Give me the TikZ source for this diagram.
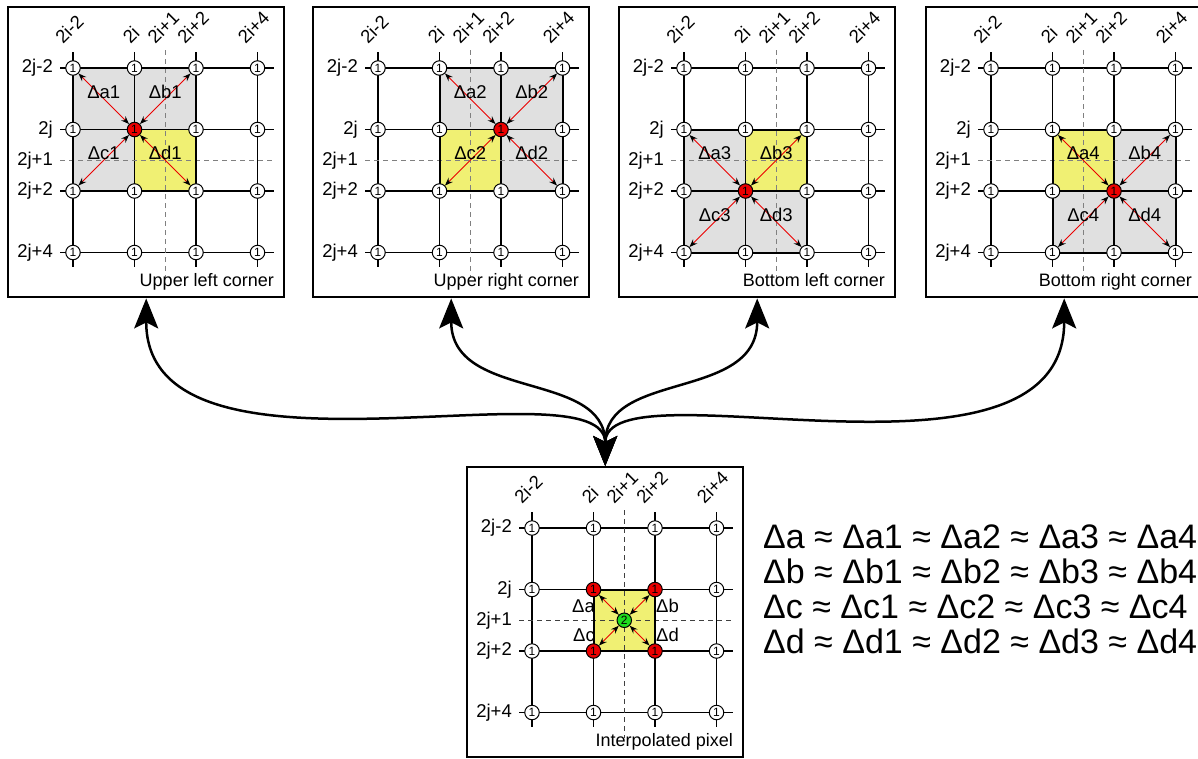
\documentclass[tikz,border=0pt]{standalone}
\usepackage{fontspec}
\setmainfont{Liberation Sans}
\usetikzlibrary{arrows.meta,calc}

\definecolor{cellgray}{RGB}{224,224,224}
\definecolor{cellyellow}{RGB}{240,240,115}
\definecolor{pixred}{RGB}{235,0,0}
\definecolor{pixgreen}{RGB}{30,220,30}

\tikzset{
  panel/.style={draw, line width=2.4pt, minimum width=276pt, minimum height=290pt, inner sep=0pt},
  gridline/.style={line width=1.2pt},
  halfline/.style={gray, line width=.8pt, dash pattern=on 5pt off 4pt},
  outline/.style={line width=2pt},
  pix/.style={circle, draw, line width=1pt, fill=white, minimum size=14.5pt, inner sep=0pt, font=\fontsize{12}{12}\selectfont},
  rowlabel/.style={anchor=east, inner sep=0pt, font=\fontsize{18.5}{18.5}\selectfont},
  collabel/.style={rotate=45, anchor=south west, inner sep=0pt, font=\fontsize{18.5}{18.5}\selectfont},
  dlabel/.style={inner sep=0pt, yshift=7pt, font=\fontsize{18.5}{18.5}\selectfont},
  plabel/.style={inner sep=0pt, font=\fontsize{18.5}{18.5}\selectfont},
  caption/.style={anchor=base east, inner sep=0pt, font=\fontsize{18}{18}\selectfont},
  darrow/.style={pixred, line width=1pt, arrows={Stealth[black,length=8pt,width=6pt]-Stealth[black,length=8pt,width=6pt]}},
  bigarrow/.style={line width=2.5pt, arrows={Stealth[length=30pt,width=24pt,inset=6pt]-Stealth[length=30pt,width=24pt,inset=6pt]}},
  eqtext/.style={anchor=base west, inner sep=0pt, font=\fontsize{34}{34}\selectfont}
}

% grid lines and labels of one panel
\newcommand\gridlines[1]{%
  \foreach \c in {66,127.5,189,250.5}
    \draw[gridline] (\c,46) -- (\c,261);
  \foreach \r in {62,123.5,185,246.5}
    \draw[gridline] (53,\r) -- (267,\r);
  \draw[halfline] (158.25,44) -- (158.25,272);
  \draw[halfline] (53,154.25) -- (265,154.25);
  \foreach \c/\t/\d [count=\k] in {66/2i-2/10,127.5/2i/4,158.25/2i+1/10,189/2i+2/11,250.5/2i+4/12}
    \node[collabel] (#1-col\k) at (\c-\d,39) {\t};
  \foreach \r/\t [count=\k] in {62/2j-2,123.5/2j,154.25/2j+1,185/2j+2,246.5/2j+4}
    \node[rowlabel] (#1-row\k) at (46,\r) {\t};
}

% pixels of one panel, the listed ones red
\newcommand\gridpix[2]{%
  \foreach \h in {#2}{\expandafter\gdef\csname hot#1-\h\endcsname{}}
  \foreach \c [count=\i from 0] in {66,127.5,189,250.5}
    \foreach \r [count=\j from 0] in {62,123.5,185,246.5}{
      \ifcsname hot#1-\i-\j\endcsname\def\pixfill{pixred}\else\def\pixfill{white}\fi
      \node[pix, fill=\pixfill] (#1-\i-\j) at (\c,\r) {1};
    }
}

\begin{document}
\begin{tikzpicture}[x=1pt,y=-1pt]
  \useasboundingbox (0,0) rectangle (1198,758);

  % frames
  \node[panel, anchor=north west] (ul) at (7,6) {};
  \node[panel, anchor=north west] (ur) at (312,6) {};
  \node[panel, anchor=north west] (bl) at (618,6) {};
  \node[panel, anchor=north west] (br) at (925,6) {};
  \node[panel, anchor=north west] (ip) at (466,466) {};

  % upper left corner
  \begin{scope}[shift={(7,6)}]
    \fill[cellgray] (66,62) rectangle (189,185);
    \fill[cellyellow] (127.5,123.5) rectangle (189,185);
    \gridlines{ul}
    \draw[outline] (66,62) rectangle (189,185);
    \gridpix{ul}{1-1}
    \foreach \k in {0-0,2-0,0-2,2-2}
      \draw[darrow] (ul-1-1) -- (ul-\k);
    \node[dlabel] (ul-a) at ($(ul-0-0)!.5!(ul-1-1)$) {Δa1};
    \node[dlabel] (ul-b) at ($(ul-1-0)!.5!(ul-2-1)$) {Δb1};
    \node[dlabel] (ul-c) at ($(ul-0-1)!.5!(ul-1-2)$) {Δc1};
    \node[dlabel] (ul-d) at ($(ul-1-1)!.5!(ul-2-2)$) {Δd1};
    \node[caption] (ul-cap) at (267,280) {Upper left corner};
  \end{scope}

  % upper right corner
  \begin{scope}[shift={(312,6)}]
    \fill[cellgray] (127.5,62) rectangle (250.5,185);
    \fill[cellyellow] (127.5,123.5) rectangle (189,185);
    \gridlines{ur}
    \draw[outline] (127.5,62) rectangle (250.5,185);
    \gridpix{ur}{2-1}
    \foreach \k in {1-0,3-0,1-2,3-2}
      \draw[darrow] (ur-2-1) -- (ur-\k);
    \node[dlabel] (ur-a) at ($(ur-1-0)!.5!(ur-2-1)$) {Δa2};
    \node[dlabel] (ur-b) at ($(ur-2-0)!.5!(ur-3-1)$) {Δb2};
    \node[dlabel] (ur-c) at ($(ur-1-1)!.5!(ur-2-2)$) {Δc2};
    \node[dlabel] (ur-d) at ($(ur-2-1)!.5!(ur-3-2)$) {Δd2};
    \node[caption] (ur-cap) at (267,280) {Upper right corner};
  \end{scope}

  % bottom left corner
  \begin{scope}[shift={(618,6)}]
    \fill[cellgray] (66,123.5) rectangle (189,246.5);
    \fill[cellyellow] (127.5,123.5) rectangle (189,185);
    \gridlines{bl}
    \draw[outline] (66,123.5) rectangle (189,246.5);
    \gridpix{bl}{1-2}
    \foreach \k in {0-1,2-1,0-3,2-3}
      \draw[darrow] (bl-1-2) -- (bl-\k);
    \node[dlabel] (bl-a) at ($(bl-0-1)!.5!(bl-1-2)$) {Δa3};
    \node[dlabel] (bl-b) at ($(bl-1-1)!.5!(bl-2-2)$) {Δb3};
    \node[dlabel] (bl-c) at ($(bl-0-2)!.5!(bl-1-3)$) {Δc3};
    \node[dlabel] (bl-d) at ($(bl-1-2)!.5!(bl-2-3)$) {Δd3};
    \node[caption] (bl-cap) at (267,280) {Bottom left corner};
  \end{scope}

  % bottom right corner
  \begin{scope}[shift={(925,6)}]
    \fill[cellgray] (127.5,123.5) rectangle (250.5,246.5);
    \fill[cellyellow] (127.5,123.5) rectangle (189,185);
    \gridlines{br}
    \draw[outline] (127.5,123.5) rectangle (250.5,246.5);
    \gridpix{br}{2-2}
    \foreach \k in {1-1,3-1,1-3,3-3}
      \draw[darrow] (br-2-2) -- (br-\k);
    \node[dlabel] (br-a) at ($(br-1-1)!.5!(br-2-2)$) {Δa4};
    \node[dlabel] (br-b) at ($(br-2-1)!.5!(br-3-2)$) {Δb4};
    \node[dlabel] (br-c) at ($(br-1-2)!.5!(br-2-3)$) {Δc4};
    \node[dlabel] (br-d) at ($(br-2-2)!.5!(br-3-3)$) {Δd4};
    \node[caption] (br-cap) at (267,280) {Bottom right corner};
  \end{scope}

  % interpolated pixel
  \begin{scope}[shift={(466,466)}, halfline/.append style={black!75}]
    \fill[cellyellow] (127.5,123.5) rectangle (189,185);
    \gridlines{ip}
    \draw[outline] (127.5,123.5) rectangle (189,185);
    \gridpix{ip}{1-1,2-1,1-2,2-2}
    \node[pix, fill=pixgreen] (ip-c) at (158.25,154.25) {2};
    \foreach \k in {1-1,2-1,1-2,2-2}
      \draw[darrow] (ip-c) -- (ip-\k);
    \node[plabel, anchor=east] (ip-a) at (129,140) {Δa};
    \node[plabel, anchor=west] (ip-b) at (190,140) {Δb};
    \node[plabel, anchor=east] (ip-cl) at (129,169) {Δc};
    \node[plabel, anchor=west] (ip-d) at (190,169) {Δd};
    \node[caption] (ip-cap) at (267,280) {Interpolated pixel};
  \end{scope}

  % links
  \draw[bigarrow] (ul.south) .. controls +(0,203) and +(0,-106) .. (ip.north);
  \draw[bigarrow] (ur.south) .. controls +(0,103) and +(0,-96) .. (ip.north);
  \draw[bigarrow] (bl.south) .. controls +(0,103) and +(0,-96) .. (ip.north);
  \draw[bigarrow] (br.south) .. controls +(0,210) and +(0,-106) .. (ip.north);

  % equalities
  \foreach \e/\y in {a/548,b/583,c/618,d/653}
    \node[eqtext] (eq-\e) at (763,\y) {Δ\e{} ≈ Δ\e1 ≈ Δ\e2 ≈ Δ\e3 ≈ Δ\e4};
\end{tikzpicture}
\end{document}
